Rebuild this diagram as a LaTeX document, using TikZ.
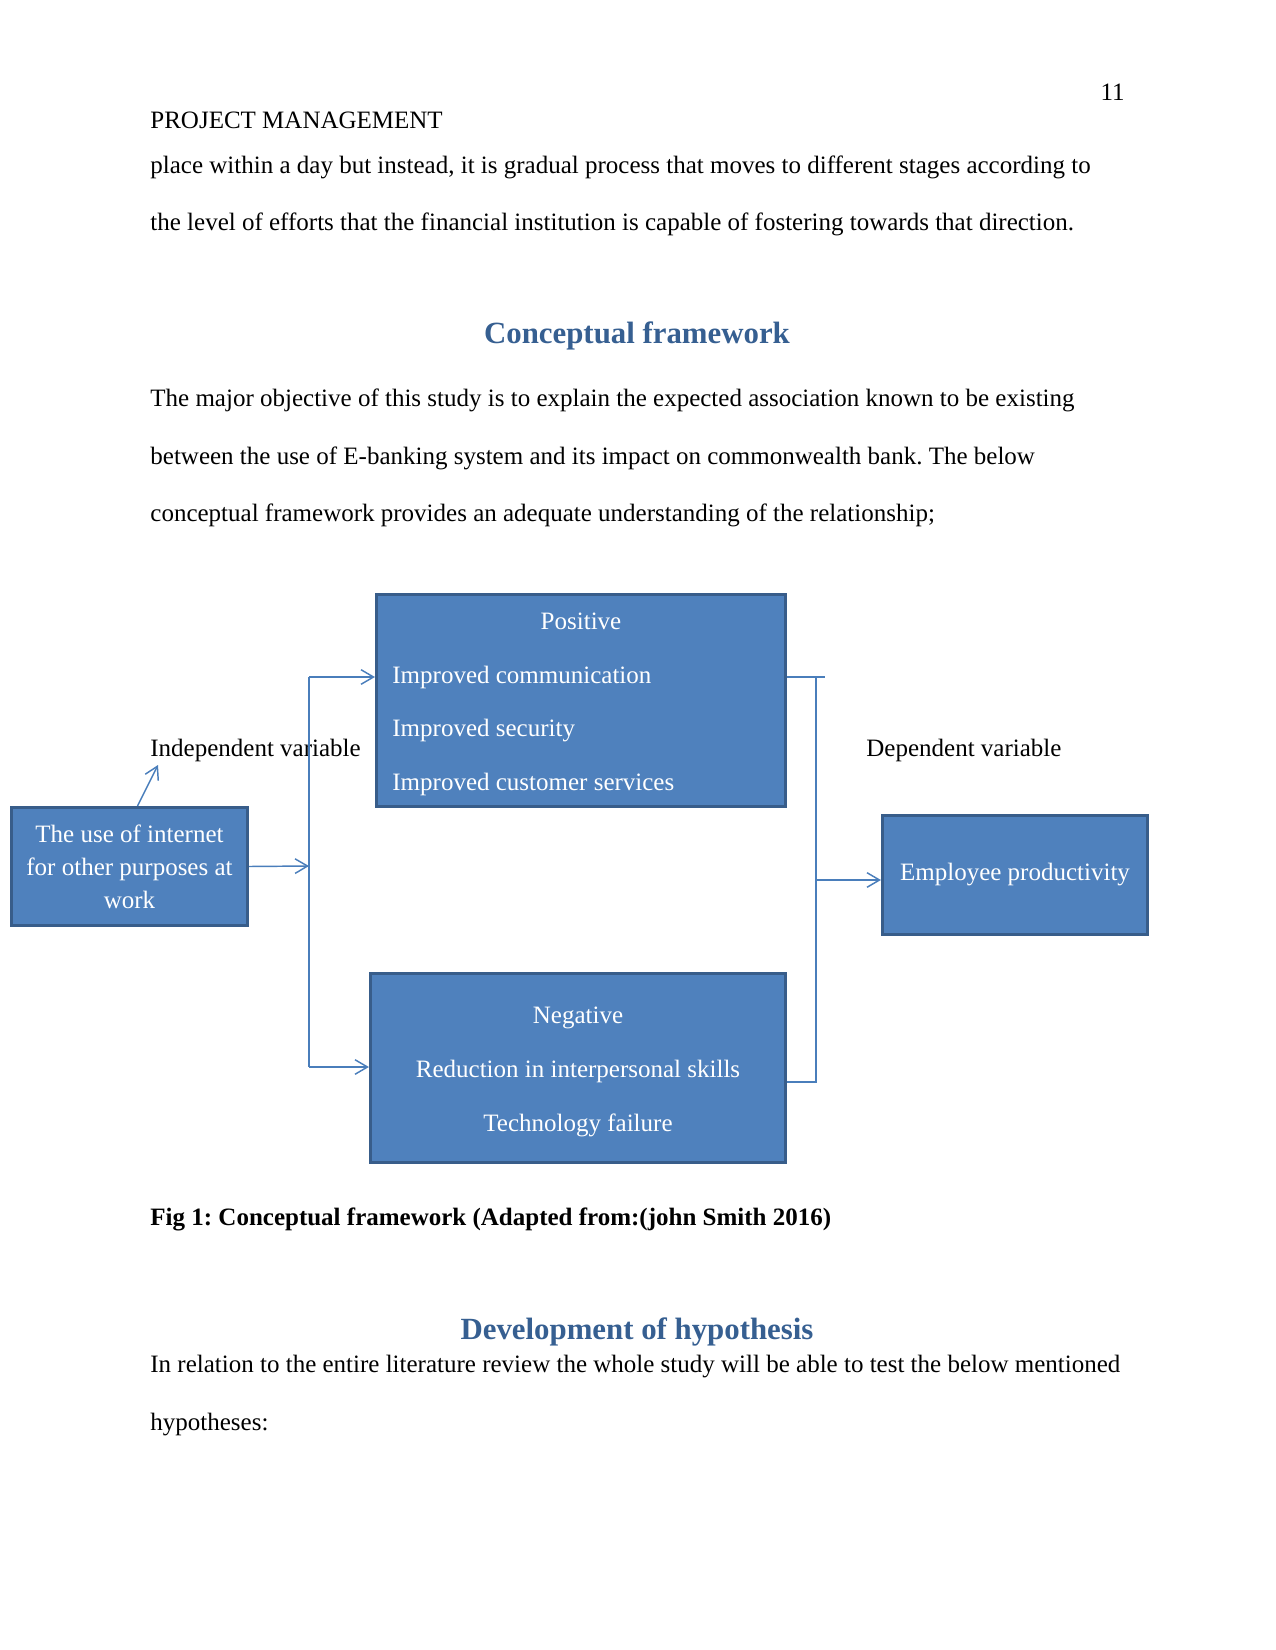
\documentclass[tikz,border=0pt]{standalone}
\usepackage{fontspec}
\setmainfont{Liberation Serif}
\frenchspacing
\usetikzlibrary{arrows.meta,positioning,calc}
\definecolor{boxblue}{HTML}{4F81BD}
\definecolor{boxedge}{HTML}{385D8A}
\definecolor{linkblue}{HTML}{4A7EBB}
\definecolor{headblue}{HTML}{365F91}

\begin{document}
\begin{tikzpicture}[
  x=0.48pt, y=-0.48pt,
  txt/.style={anchor=west, inner sep=0pt, font=\fontsize{12}{14}\selectfont},
  head/.style={inner sep=0pt, text=headblue, font=\fontsize{14.8}{18}\selectfont\bfseries},
  block/.style={draw=boxedge, line width=1.5pt, fill=boxblue, rectangle, text=white, inner sep=0pt, align=center, font=\fontsize{12}{15.8}\selectfont},
  item/.style={inner sep=0pt, text=white, font=\fontsize{12}{14}\selectfont},
  link/.style={draw=linkblue, line width=0.7pt},
  arr/.style={link, -{Straight Barb[length=6pt,width=7pt]}}
]
  \useasboundingbox (0,0) rectangle (1275,1650);

  % page text
  \node[inner sep=0pt, anchor=east, font=\fontsize{12}{14}\selectfont] (pgno) at (1125,92) {11};
  \node[txt] (runhead) at (150,120) {PROJECT MANAGEMENT};
  \node[txt] (prev1) at (150,167.5) {place within a day but instead, it is gradual process that moves to different stages according to};
  \node[txt] (prev2) at (150,224.5) {the level of efforts that the financial institution is capable of fostering towards that direction.};
  \node[head] (cfhead) at (637,336) {Conceptual framework};
  \node[txt] (para1) at (150,400.5) {The major objective of this study is to explain the expected association known to be existing};
  \node[txt] (para2) at (150,458.5) {between the use of E-banking system and its impact on commonwealth bank. The below};
  \node[txt] (para3) at (150,515.5) {conceptual framework provides an adequate understanding of the relationship;};

  % framework boxes
  \node[block, minimum width=196.3pt, minimum height=101.8pt] (pos) at (581,700.5) {};
  \node[item] (postitle) at (581,621) {Positive};
  \node[item, anchor=west] (pos1) at (392,677) {Improved communication};
  \node[item, anchor=west] (pos2) at (392,730.5) {Improved security};
  \node[item, anchor=west] (pos3) at (392,784) {Improved customer services};

  \node[block, minimum width=199.2pt, minimum height=90.7pt] (neg) at (578,1068) {};
  \node[item] (negtitle) at (578,1017.5) {Negative};
  \node[item] (neg1) at (578,1071) {Reduction in interpersonal skills};
  \node[item] (neg2) at (578,1125) {Technology failure};

  \node[block, minimum width=113.3pt, minimum height=56.6pt] (use) at (129.5,866.5) {The use of internet\\for other purposes at\\work};
  \node[block, minimum width=127.2pt, minimum height=57.1pt] (emp) at (1015,875) {Employee productivity};

  \node[txt] (indep) at (150,750) {Independent variable};
  \node[txt] (dep) at (866,750) {Dependent variable};

  % connectors
  \coordinate (lt) at (309,677);
  \coordinate (lm) at (309,866);
  \coordinate (lb) at (309,1067);
  \coordinate (rt) at (816,677);
  \coordinate (rm) at (816,880);
  \coordinate (rb) at (816,1082);
  \coordinate (ivtip) at (158,765);

  \draw[arr] ($(use.north)+(8,0)$) -- (ivtip);
  \draw[arr] (use.east) -- (lm);
  \draw[link] (lt) -- (lb);
  \draw[arr] (lt) -- (lt -| pos.west);
  \draw[arr] (lb) -- (lb -| neg.west);
  \draw[link] (pos.east |- rt) -- +(38,0);
  \draw[link] (rt) -- (rb) -- (neg.east |- rb);
  \draw[arr] (rm) -- (emp.west |- rm);

  % after the figure
  \node[txt, font=\fontsize{12}{14}\selectfont\bfseries] (caption) at (150,1219.5) {Fig 1: Conceptual framework (Adapted from:(john Smith 2016)};
  \node[head] (hyphead) at (637,1332) {Development of hypothesis};
  \node[txt] (para4) at (150,1367) {In relation to the entire literature review the whole study will be able to test the below mentioned};
  \node[txt] (para5) at (150,1424.5) {hypotheses:};
\end{tikzpicture}
\end{document}
